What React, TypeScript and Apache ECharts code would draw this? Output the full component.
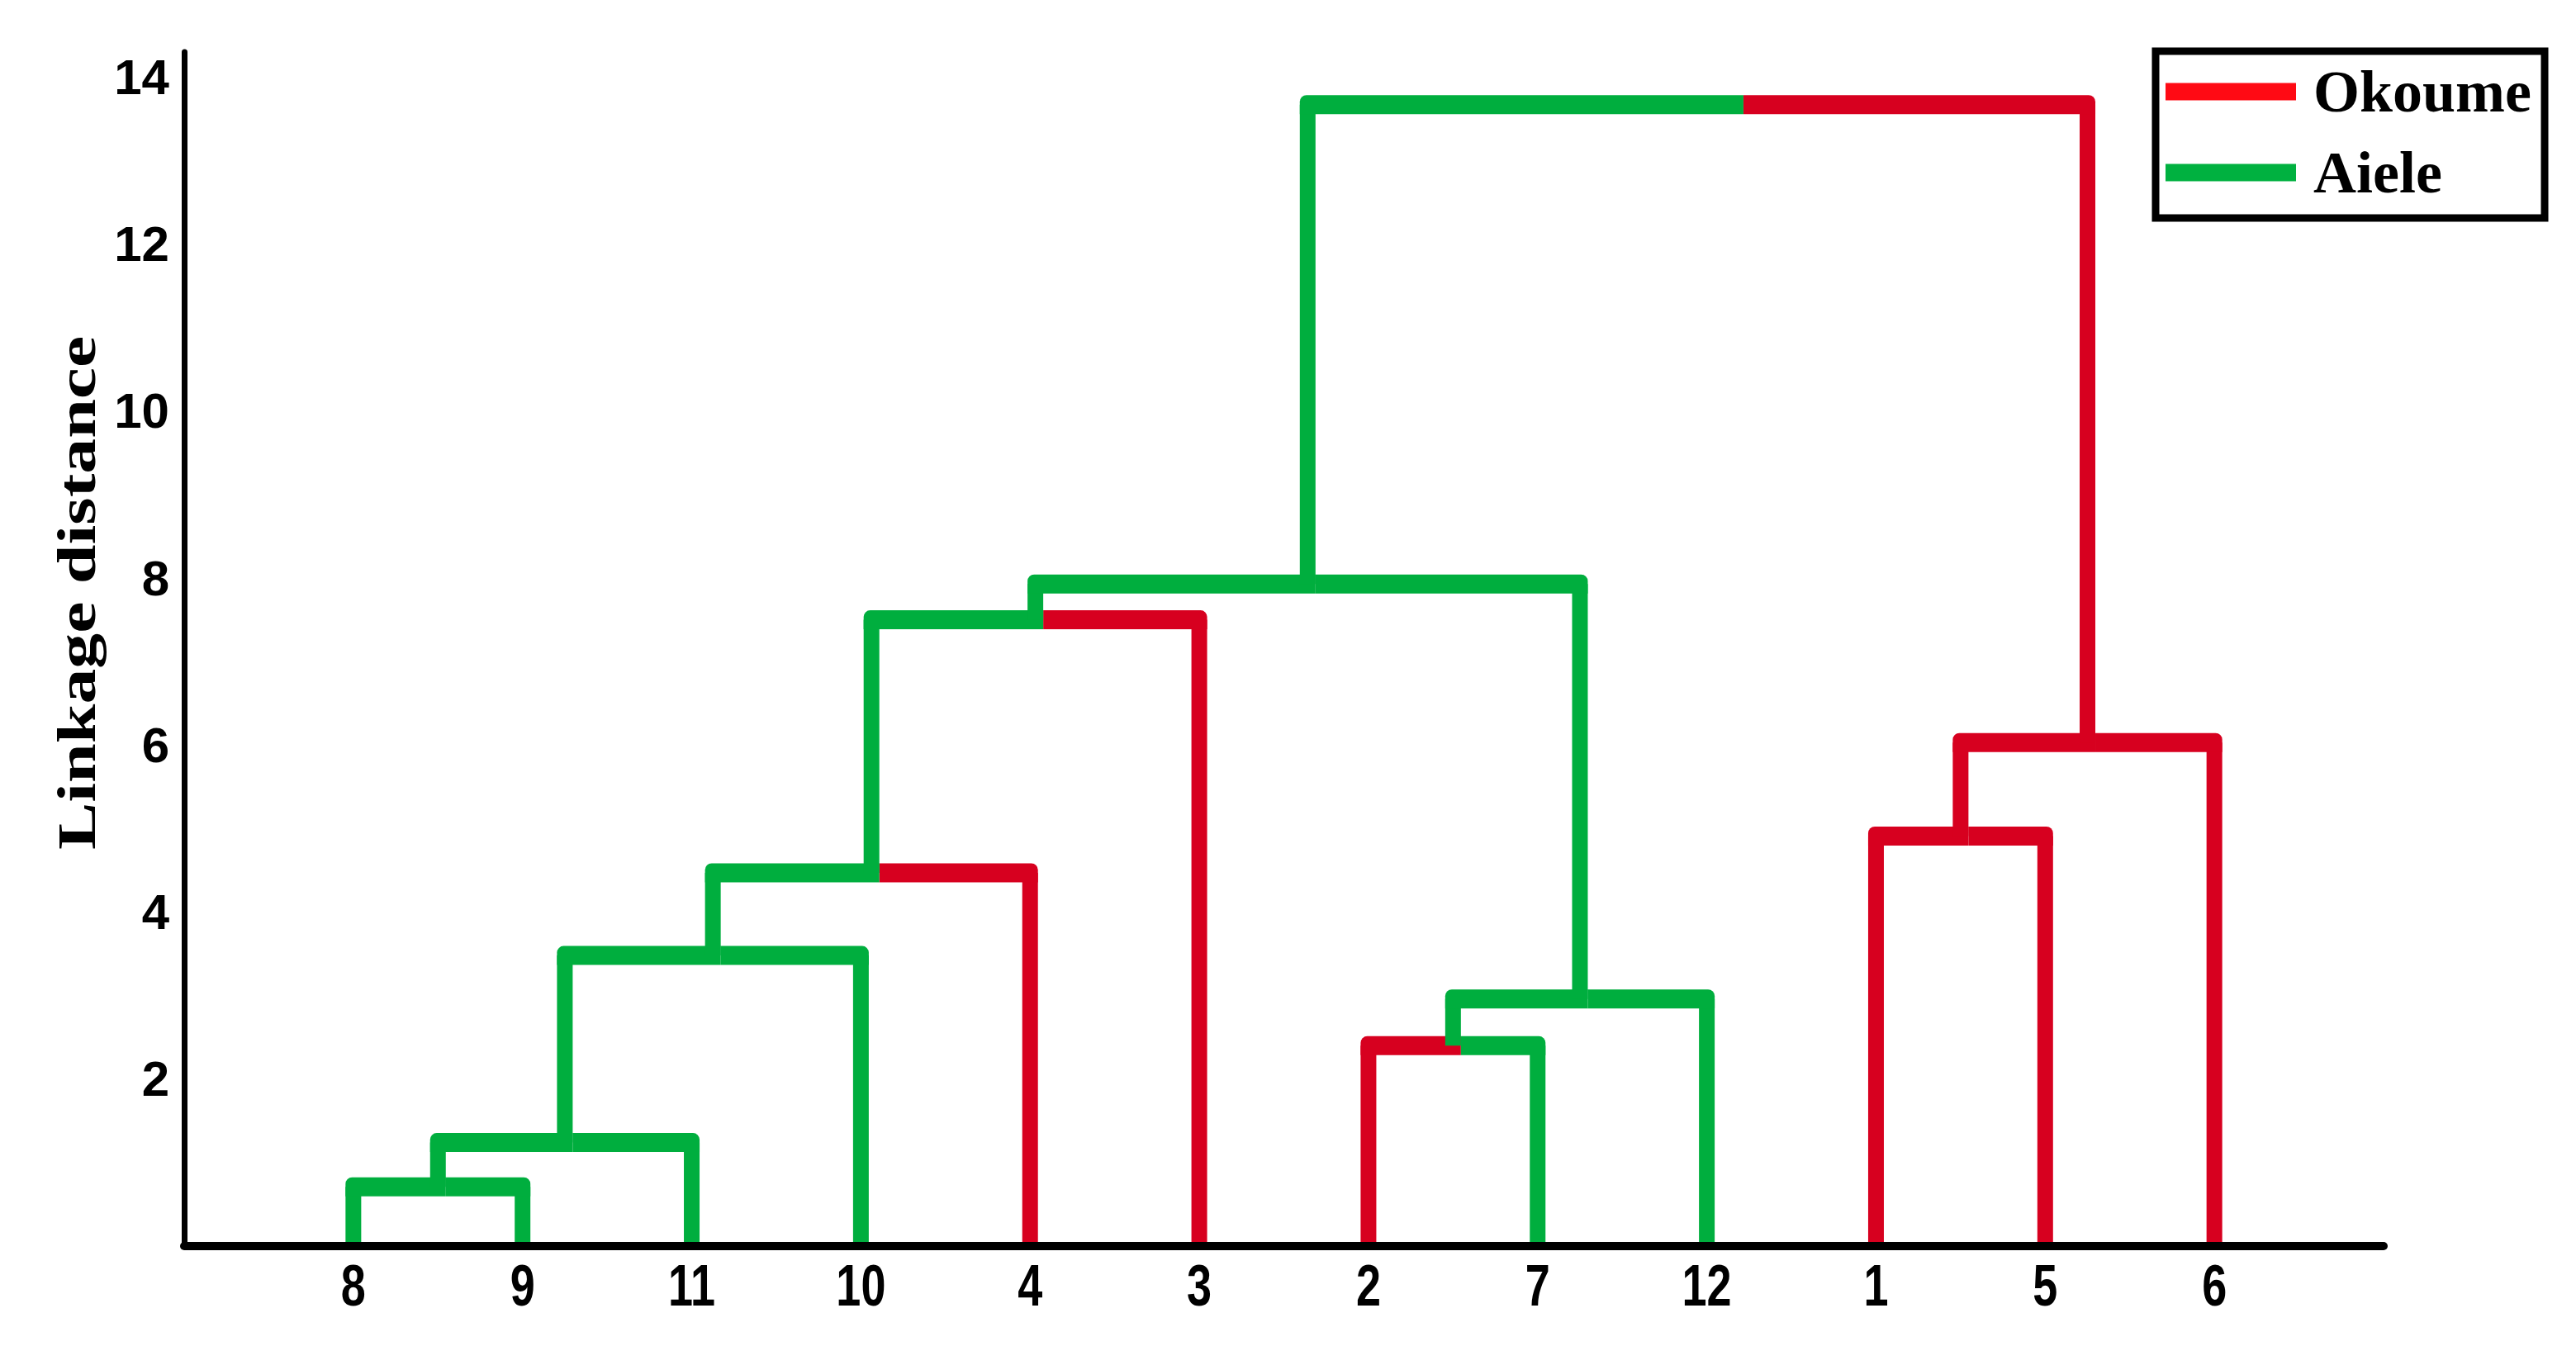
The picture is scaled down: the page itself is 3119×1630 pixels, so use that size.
import React, { useEffect, useRef } from "react";
import * as echarts from "echarts";

// Leaves in dendrogram order (x positions 1..12)
const LEAVES = ["8", "9", "11", "10", "4", "3", "2", "7", "12", "1", "5", "6"];
const LEAF_GROUP = ["Aiele", "Aiele", "Aiele", "Aiele", "Okoume", "Okoume", "Okoume", "Aiele", "Aiele", "Okoume", "Okoume", "Okoume"];

// Merges: node ids 0..11 are leaves, merge k creates node 12 + k
const MERGE_LEFT = [0, 12, 13, 14, 15, 6, 17, 16, 9, 20, 19];
const MERGE_RIGHT = [1, 2, 3, 4, 5, 7, 8, 18, 10, 11, 21];
const MERGE_HEIGHT = [0.71, 1.24, 3.48, 4.47, 7.5, 2.4, 2.96, 7.93, 4.91, 6.03, 13.67];
const MERGE_GROUP = ["Aiele", "Aiele", "Aiele", "Aiele", "Aiele", "Aiele", "Aiele", "Aiele", "Okoume", "Okoume", "Aiele"];
const ROOT_SPLIT = 9.17;

const SERIES_NAMES = ["Okoume", "Aiele"];
const TREE_COLORS = ["#D7001F", "#00AE3E"];
const LEGEND_COLORS = ["#FF0A14", "#00B140"];

const VW = 19; // vertical stroke width (px)
const HW = 23; // horizontal stroke width (px)

type Seg = [number, number, number, number, number];

function buildSegments(): Record<string, Seg[]> {
  const nodeX: number[] = LEAVES.map((_, i) => i + 1);
  const nodeH: number[] = LEAVES.map(() => 0);
  const nodeG: string[] = [...LEAF_GROUP];
  MERGE_LEFT.forEach((l, k) => {
    const r = MERGE_RIGHT[k];
    nodeX.push((nodeX[l] + nodeX[r]) / 2);
    nodeH.push(MERGE_HEIGHT[k]);
    nodeG.push(MERGE_GROUP[k]);
  });
  const out: Record<string, Seg[]> = { Okoume: [], Aiele: [] };
  MERGE_LEFT.forEach((l, k) => {
    const r = MERGE_RIGHT[k];
    const n = LEAVES.length + k;
    const h = nodeH[n];
    const split = k === MERGE_LEFT.length - 1 ? ROOT_SPLIT : nodeX[n];
    out[nodeG[l]].push([nodeX[l], nodeX[l], nodeH[l], h, 0]);
    out[nodeG[r]].push([nodeX[r], nodeX[r], nodeH[r], h, 0]);
    out[nodeG[l]].push([nodeX[l], split, h, h, 1]);
    out[nodeG[r]].push([split, nodeX[r], h, h, 2]);
  });
  return out;
}

export default function App() {
  const ref = useRef<HTMLDivElement>(null);
  useEffect(() => {
    if (!ref.current) return;
    const chart = echarts.init(ref.current, null, { renderer: "svg" });
    const segs = buildSegments();

    const renderItem = (params: any, api: any) => {
      const x1 = api.value(0);
      const x2 = api.value(1);
      const y1 = api.value(2);
      const y2 = api.value(3);
      const kind = api.value(4);
      const p1 = api.coord([x1, y1]);
      const p2 = api.coord([x2, y2]);
      const fill = api.visual("color");
      if (kind === 0) {
        const top = Math.min(p1[1], p2[1]);
        const bot = Math.max(p1[1], p2[1]);
        return {
          type: "rect",
          shape: { x: p1[0] - VW / 2, y: top, width: VW, height: bot - top },
          style: { fill },
        };
      }
      let left = Math.min(p1[0], p2[0]);
      let right = Math.max(p1[0], p2[0]);
      let r: number[];
      if (kind === 1) {
        left -= VW / 2;
        right += VW / 2;
        r = [8, 0, 0, 0];
      } else {
        left += VW / 2;
        right += VW / 2;
        r = [0, 8, 0, 0];
      }
      return {
        type: "rect",
        shape: { x: left, y: p1[1] - HW / 2, width: right - left, height: HW, r },
        style: { fill },
      };
    };

    const yName = {
      type: "text",
      id: "yname",
      x: 93,
      y: 718,
      rotation: Math.PI / 2,
      scaleX: 1.3,
      style: {
        text: "Linkage distance",
        fontFamily: "Liberation Serif",
        fontWeight: "bold",
        fontSize: 66,
        fill: "#000",
        align: "center",
        verticalAlign: "middle",
        textAlign: "center",
        textVerticalAlign: "middle",
      },
    };

    chart.setOption({
      animation: false,
      backgroundColor: "#ffffff",
      grid: { left: 223, right: 233, top: 63, bottom: 121, containLabel: false },
      legend: {
        orient: "vertical",
        left: 2610,
        top: 62,
        padding: [13, 16, 19, 12],
        itemWidth: 158,
        itemHeight: 21,
        itemGap: 26,
        borderColor: "#000",
        borderWidth: 9,
        backgroundColor: "#fff",
        selectedMode: false,
        textStyle: {
          fontFamily: "Liberation Serif",
          fontWeight: "bold",
          fontSize: 72,
          color: "#000",
          padding: [0, 0, 0, 16],
        },
        data: SERIES_NAMES.map((name, i) => ({
          name,
          icon: "rect",
          itemStyle: { color: LEGEND_COLORS[i] },
        })),
      },
      xAxis: {
        type: "value",
        min: 0,
        max: LEAVES.length + 1,
        interval: 1,
        z: 5,
        axisLine: { show: true, lineStyle: { color: "#000", width: 10 } },
        axisTick: { show: false },
        splitLine: { show: false },
        axisLabel: { show: false },
      },
      yAxis: {
        type: "value",
        min: 0,
        max: 14.3,
        interval: 2,
        z: 5,
        axisLine: { show: true, lineStyle: { color: "#000", width: 7 } },
        axisTick: { show: false },
        splitLine: { show: false },
        axisLabel: {
          margin: 18,
          fontFamily: "Liberation Sans",
          fontWeight: "bold",
          fontSize: 60,
          color: "#000",
          formatter: (v: number) => (v !== 0 && v % 2 === 0 ? String(v) : ""),
        },
      },
      graphic: [yName],
      series: SERIES_NAMES.map((name, i) => ({
        name,
        type: "custom",
        renderItem,
        itemStyle: { color: TREE_COLORS[i] },
        encode: { x: [0, 1], y: [2, 3] },
        data: segs[name],
        silent: true,
      })),
    });

    // Leaf labels (condensed look) placed through the x axis scale
    const axisY = chart.convertToPixel({ yAxisIndex: 0 }, 0) as number;
    const labels = LEAVES.map((name, i) => {
      const px = chart.convertToPixel({ xAxisIndex: 0 }, i + 1) as number;
      return {
        type: "text",
        id: "leaf" + i,
        x: px,
        y: axisY + 12,
        scaleY: 1.3,
        style: {
          text: name,
          fontFamily: "Liberation Sans",
          fontWeight: "bold",
          fontSize: 54,
          fill: "#000",
          align: "center",
          verticalAlign: "top",
          textAlign: "center",
          textVerticalAlign: "top",
        },
      };
    });
    chart.setOption({ graphic: [yName, ...labels] });

    return () => chart.dispose();
  }, []);
  return (
    <div
      ref={ref}
      style={{ position: "absolute", left: 0, top: 0, width: 3119, height: 1630, background: "#fff" }}
    />
  );
}
